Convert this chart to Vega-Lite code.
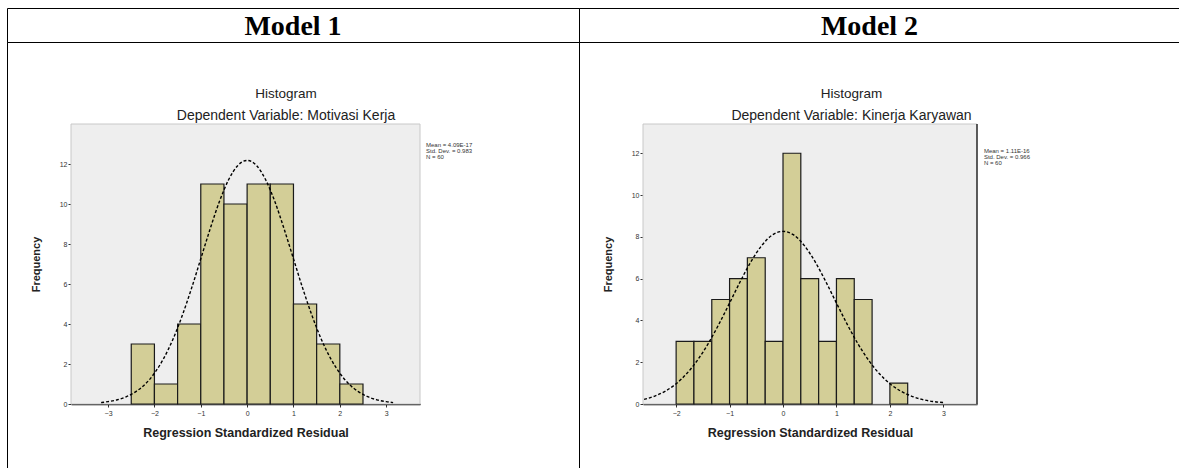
{
  "$schema": "https://vega.github.io/schema/vega-lite/v6.json",
  "padding": {"left": 6, "top": 7, "right": 0, "bottom": 0},
  "background": "white",
  "columns": 2,
  "spacing": 0,
  "bounds": "flush",
  "config": {
    "view": {"stroke": "#000000", "strokeWidth": 1},
    "font": "Liberation Sans",
    "axis": {"grid": false, "labelFont": "Liberation Sans", "titleFont": "Liberation Sans", "labelFontSize": 7, "labelColor": "#333333", "tickColor": "#333333", "tickSize": 3, "titleFontSize": 11, "titleFontWeight": "bold", "titleColor": "#222222", "domainColor": "#000000", "format": "d"},
    "title": {"font": "Liberation Sans", "fontSize": 13.5, "fontWeight": "normal", "color": "#222222", "subtitleFont": "Liberation Sans", "subtitleFontSize": 14, "subtitleColor": "#222222", "subtitlePadding": 9, "anchor": "middle"}
  },
  "concat": [
    {
      "width": 572, "height": 34,
      "view": {"stroke": "#000000", "strokeWidth": 1, "style": "cell"},
      "data": {"values": [{"model": "Model 1"}]},
      "mark": {"type": "text", "font": "Liberation Serif", "fontSize": 28, "fontWeight": "bold", "color": "#000000", "dy": 1.5},
      "encoding": {"text": {"field": "model", "type": "nominal"}}
    },
    {
      "width": 605, "height": 34,
      "view": {"stroke": "#000000", "strokeWidth": 1, "style": "cell"},
      "data": {"values": [{"model": "Model 2"}]},
      "mark": {"type": "text", "font": "Liberation Serif", "fontSize": 28, "fontWeight": "bold", "color": "#000000", "dy": 1.5, "dx": -12},
      "encoding": {"text": {"field": "model", "type": "nominal"}}
    },
    {
      "width": 572, "height": 432,
      "title": {"text": "Histogram", "subtitle": "Dependent Variable: Motivasi Kerja", "offset": -81, "dx": -7},
      "layer": [
        {
          "data": {"values": [{"panel": "Model 1"}]},
          "mark": {"type": "rect", "fill": "#eeeeee", "stroke": "#c8c8c8", "strokeWidth": 1},
          "encoding": {
            "x": {"datum": -3.8, "type": "quantitative", "scale": {"domain": [-3.8, 3.73], "range": [64, 413], "nice": false, "zero": false}, "axis": {"title": "Regression Standardized Residual", "titleFontSize": 12.5, "values": [-3, -2, -1, 0, 1, 2, 3], "offset": -70, "domainWidth": 1.5, "titlePadding": 10, "labelPadding": 2}},
            "x2": {"datum": 3.73},
            "y": {"datum": 0, "type": "quantitative", "scale": {"domain": [0, 14], "range": [362, 82], "nice": false, "zero": false}, "axis": {"title": "Frequency", "values": [0, 2, 4, 6, 8, 10, 12], "offset": -64, "domain": false, "titlePadding": 18, "labelPadding": 1}},
            "y2": {"datum": 14}
          }
        },
        {
          "data": {"values": [
            {"bin_start": -2.5, "bin_end": -2.0, "count": 3},
            {"bin_start": -2.0, "bin_end": -1.5, "count": 1},
            {"bin_start": -1.5, "bin_end": -1.0, "count": 4},
            {"bin_start": -1.0, "bin_end": -0.5, "count": 11},
            {"bin_start": -0.5, "bin_end": 0.0, "count": 10},
            {"bin_start": 0.0, "bin_end": 0.5, "count": 11},
            {"bin_start": 0.5, "bin_end": 1.0, "count": 11},
            {"bin_start": 1.0, "bin_end": 1.5, "count": 5},
            {"bin_start": 1.5, "bin_end": 2.0, "count": 3},
            {"bin_start": 2.0, "bin_end": 2.5, "count": 1}
          ]},
          "mark": {"type": "rect", "fill": "#d3ce97", "stroke": "#1a1a1a", "strokeWidth": 1.2},
          "encoding": {
            "x": {"field": "bin_start", "type": "quantitative", "scale": {"domain": [-3.8, 3.73], "range": [64, 413], "nice": false, "zero": false}, "axis": {"title": "Regression Standardized Residual", "titleFontSize": 12.5, "values": [-3, -2, -1, 0, 1, 2, 3], "offset": -70, "domainWidth": 1.5, "titlePadding": 10, "labelPadding": 2}},
            "x2": {"field": "bin_end"},
            "y": {"field": "count", "type": "quantitative", "scale": {"domain": [0, 14], "range": [362, 82], "nice": false, "zero": false}, "axis": {"title": "Frequency", "values": [0, 2, 4, 6, 8, 10, 12], "offset": -64, "domain": false, "titlePadding": 18, "labelPadding": 1}},
            "y2": {"datum": 0}
          }
        },
        {
          "data": {"values": [
            {"x": -3.15, "y": 0.07}, {"x": -3.0, "y": 0.12}, {"x": -2.8, "y": 0.21}, {"x": -2.6, "y": 0.37},
            {"x": -2.4, "y": 0.62}, {"x": -2.2, "y": 0.99}, {"x": -2.0, "y": 1.54}, {"x": -1.8, "y": 2.28},
            {"x": -1.6, "y": 3.24}, {"x": -1.4, "y": 4.42}, {"x": -1.2, "y": 5.78}, {"x": -1.0, "y": 7.26},
            {"x": -0.8, "y": 8.74}, {"x": -0.6, "y": 10.11}, {"x": -0.4, "y": 11.21}, {"x": -0.2, "y": 11.93},
            {"x": 0.0, "y": 12.18}, {"x": 0.2, "y": 11.93}, {"x": 0.4, "y": 11.21}, {"x": 0.6, "y": 10.11},
            {"x": 0.8, "y": 8.74}, {"x": 1.0, "y": 7.26}, {"x": 1.2, "y": 5.78}, {"x": 1.4, "y": 4.42},
            {"x": 1.6, "y": 3.24}, {"x": 1.8, "y": 2.28}, {"x": 2.0, "y": 1.54}, {"x": 2.2, "y": 0.99},
            {"x": 2.4, "y": 0.62}, {"x": 2.6, "y": 0.37}, {"x": 2.8, "y": 0.21}, {"x": 3.0, "y": 0.12},
            {"x": 3.15, "y": 0.07}
          ]},
          "mark": {"type": "line", "color": "#000000", "strokeWidth": 1.4, "strokeDash": [3, 2], "interpolate": "monotone"},
          "encoding": {
            "x": {"field": "x", "type": "quantitative", "scale": {"domain": [-3.8, 3.73], "range": [64, 413], "nice": false, "zero": false}, "axis": {"title": "Regression Standardized Residual", "titleFontSize": 12.5, "values": [-3, -2, -1, 0, 1, 2, 3], "offset": -70, "domainWidth": 1.5, "titlePadding": 10, "labelPadding": 2}},
            "y": {"field": "y", "type": "quantitative", "scale": {"domain": [0, 14], "range": [362, 82], "nice": false, "zero": false}, "axis": {"title": "Frequency", "values": [0, 2, 4, 6, 8, 10, 12], "offset": -64, "domain": false, "titlePadding": 18, "labelPadding": 1}}
          }
        },
        {
          "data": {"values": [{"stats": ["Mean = 4.09E-17", "Std. Dev. = 0.983", "N = 60"]}]},
          "mark": {"type": "text", "align": "left", "baseline": "top", "fontSize": 6, "lineHeight": 6, "color": "#333333"},
          "encoding": {
            "x": {"datum": 3.86, "type": "quantitative"},
            "y": {"datum": 13.1, "type": "quantitative"},
            "text": {"field": "stats", "type": "nominal"}
          }
        }
      ]
    },
    {
      "width": 605, "height": 432,
      "title": {"text": "Histogram", "subtitle": "Dependent Variable: Kinerja Karyawan", "offset": -81, "dx": -30},
      "layer": [
        {
          "data": {"values": [{"panel": "Model 2"}]},
          "mark": {"type": "rect", "fill": "#eeeeee", "stroke": "#c8c8c8", "strokeWidth": 1},
          "encoding": {
            "x": {"datum": -2.62, "type": "quantitative", "scale": {"domain": [-2.62, 3.63], "range": [64, 398], "nice": false, "zero": false}, "axis": {"title": "Regression Standardized Residual", "titleFontSize": 12.5, "values": [-2, -1, 0, 1, 2, 3], "offset": -70, "domainWidth": 1.5, "titlePadding": 10, "labelPadding": 2}},
            "x2": {"datum": 3.63},
            "y": {"datum": 0, "type": "quantitative", "scale": {"domain": [0, 13.4], "range": [362, 82], "nice": false, "zero": false}, "axis": {"title": "Frequency", "values": [0, 2, 4, 6, 8, 10, 12], "offset": -64, "domain": false, "titlePadding": 18, "labelPadding": 1}},
            "y2": {"datum": 13.4}
          }
        },
        {
          "data": {"values": [{"edge": 3.63}]},
          "mark": {"type": "rule", "color": "#000000", "strokeWidth": 1.2},
          "encoding": {
            "x": {"field": "edge", "type": "quantitative"},
            "y": {"datum": 0, "type": "quantitative"},
            "y2": {"datum": 13.4}
          }
        },
        {
          "data": {"values": [
            {"bin_start": -2.0, "bin_end": -1.667, "count": 3},
            {"bin_start": -1.667, "bin_end": -1.333, "count": 3},
            {"bin_start": -1.333, "bin_end": -1.0, "count": 5},
            {"bin_start": -1.0, "bin_end": -0.667, "count": 6},
            {"bin_start": -0.667, "bin_end": -0.333, "count": 7},
            {"bin_start": -0.333, "bin_end": 0.0, "count": 3},
            {"bin_start": 0.0, "bin_end": 0.333, "count": 12},
            {"bin_start": 0.333, "bin_end": 0.667, "count": 6},
            {"bin_start": 0.667, "bin_end": 1.0, "count": 3},
            {"bin_start": 1.0, "bin_end": 1.333, "count": 6},
            {"bin_start": 1.333, "bin_end": 1.667, "count": 5},
            {"bin_start": 2.0, "bin_end": 2.333, "count": 1}
          ]},
          "mark": {"type": "rect", "fill": "#d3ce97", "stroke": "#1a1a1a", "strokeWidth": 1.2},
          "encoding": {
            "x": {"field": "bin_start", "type": "quantitative", "scale": {"domain": [-2.62, 3.63], "range": [64, 398], "nice": false, "zero": false}, "axis": {"title": "Regression Standardized Residual", "titleFontSize": 12.5, "values": [-2, -1, 0, 1, 2, 3], "offset": -70, "domainWidth": 1.5, "titlePadding": 10, "labelPadding": 2}},
            "x2": {"field": "bin_end"},
            "y": {"field": "count", "type": "quantitative", "scale": {"domain": [0, 13.4], "range": [362, 82], "nice": false, "zero": false}, "axis": {"title": "Frequency", "values": [0, 2, 4, 6, 8, 10, 12], "offset": -64, "domain": false, "titlePadding": 18, "labelPadding": 1}},
            "y2": {"datum": 0}
          }
        },
        {
          "data": {"values": [
            {"x": -2.6, "y": 0.22}, {"x": -2.4, "y": 0.38}, {"x": -2.2, "y": 0.62}, {"x": -2.0, "y": 0.97},
            {"x": -1.8, "y": 1.46}, {"x": -1.6, "y": 2.10}, {"x": -1.4, "y": 2.89}, {"x": -1.2, "y": 3.82},
            {"x": -1.0, "y": 4.83}, {"x": -0.8, "y": 5.86}, {"x": -0.6, "y": 6.81}, {"x": -0.4, "y": 7.58},
            {"x": -0.2, "y": 8.09}, {"x": 0.0, "y": 8.26}, {"x": 0.2, "y": 8.09}, {"x": 0.4, "y": 7.58},
            {"x": 0.6, "y": 6.81}, {"x": 0.8, "y": 5.86}, {"x": 1.0, "y": 4.83}, {"x": 1.2, "y": 3.82},
            {"x": 1.4, "y": 2.89}, {"x": 1.6, "y": 2.10}, {"x": 1.8, "y": 1.46}, {"x": 2.0, "y": 0.97},
            {"x": 2.2, "y": 0.62}, {"x": 2.4, "y": 0.38}, {"x": 2.6, "y": 0.22}, {"x": 2.8, "y": 0.12},
            {"x": 3.0, "y": 0.07}
          ]},
          "mark": {"type": "line", "color": "#000000", "strokeWidth": 1.4, "strokeDash": [3, 2], "interpolate": "monotone"},
          "encoding": {
            "x": {"field": "x", "type": "quantitative", "scale": {"domain": [-2.62, 3.63], "range": [64, 398], "nice": false, "zero": false}, "axis": {"title": "Regression Standardized Residual", "titleFontSize": 12.5, "values": [-2, -1, 0, 1, 2, 3], "offset": -70, "domainWidth": 1.5, "titlePadding": 10, "labelPadding": 2}},
            "y": {"field": "y", "type": "quantitative", "scale": {"domain": [0, 13.4], "range": [362, 82], "nice": false, "zero": false}, "axis": {"title": "Frequency", "values": [0, 2, 4, 6, 8, 10, 12], "offset": -64, "domain": false, "titlePadding": 18, "labelPadding": 1}}
          }
        },
        {
          "data": {"values": [{"stats": ["Mean = 1.11E-16", "Std. Dev. = 0.966", "N = 60"]}]},
          "mark": {"type": "text", "align": "left", "baseline": "top", "fontSize": 6, "lineHeight": 6, "color": "#333333"},
          "encoding": {
            "x": {"datum": 3.76, "type": "quantitative"},
            "y": {"datum": 12.25, "type": "quantitative"},
            "text": {"field": "stats", "type": "nominal"}
          }
        }
      ]
    }
  ]
}
